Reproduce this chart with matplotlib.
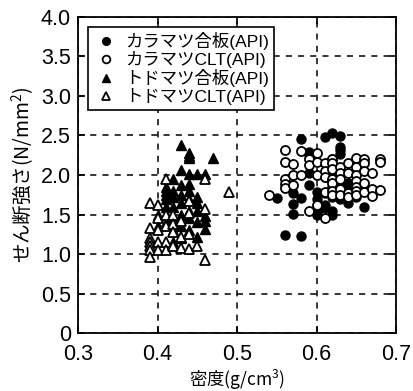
import numpy as np
import matplotlib
matplotlib.use("Agg")
import matplotlib.pyplot as plt

plt.rcParams['font.family'] = ['Liberation Sans', 'Noto Sans CJK JP', 'DejaVu Sans']
plt.rcParams['mathtext.fontset'] = 'custom'
plt.rcParams['mathtext.rm'] = 'Noto Sans CJK JP'
plt.rcParams['mathtext.it'] = 'Noto Sans CJK JP'
plt.rcParams['mathtext.default'] = 'rm'

# カラマツ合板(API)
kara_ply_x = [0.55, 0.56, 0.57, 0.57, 0.57, 0.58, 0.58, 0.58,
              0.59, 0.59, 0.59, 0.59, 0.60, 0.60, 0.60, 0.60, 0.60,
              0.61, 0.61, 0.61, 0.61, 0.61,
              0.62, 0.62, 0.62, 0.62, 0.62, 0.62, 0.62,
              0.63, 0.63, 0.63, 0.63, 0.63, 0.63, 0.63,
              0.64, 0.64, 0.64, 0.65, 0.65, 0.65, 0.66]
kara_ply_y = [1.71, 1.24, 1.77, 1.63, 1.51, 2.45, 1.71, 1.23,
              2.29, 2.25, 2.02, 1.87, 1.79, 1.70, 1.58, 1.52, 1.50,
              2.48, 1.97, 1.77, 1.62, 1.58,
              2.53, 2.20, 1.96, 1.85, 1.72, 1.55, 1.50,
              2.49, 2.36, 2.32, 2.27, 2.00, 1.85, 1.70,
              1.90, 1.80, 1.64, 1.92, 1.88, 1.72, 1.60]

# カラマツCLT(API)
kara_clt_x = [0.54, 0.56, 0.56, 0.56, 0.56, 0.56, 0.57, 0.57, 0.57,
              0.58, 0.58, 0.59, 0.59, 0.59, 0.60, 0.60, 0.60, 0.60,
              0.61, 0.61, 0.61, 0.61, 0.61,
              0.62, 0.62, 0.62, 0.62, 0.62, 0.62, 0.62,
              0.63, 0.63, 0.63, 0.63, 0.63,
              0.64, 0.64, 0.64, 0.64,
              0.65, 0.65, 0.65, 0.65, 0.65, 0.65, 0.65,
              0.66, 0.66, 0.66, 0.66, 0.66,
              0.67, 0.67, 0.67, 0.68, 0.68, 0.68]
kara_clt_y = [1.75, 2.32, 2.17, 1.95, 1.88, 1.84, 2.14, 2.00, 1.87,
              2.30, 2.00, 2.20, 2.12, 1.54, 2.28, 2.17, 2.00, 1.62,
              2.15, 2.05, 1.97, 1.78, 1.45,
              2.20, 2.15, 2.07, 1.95, 1.90, 1.80, 1.75,
              2.10, 2.02, 1.95, 1.82, 1.75,
              2.15, 2.02, 1.77, 1.72,
              2.22, 2.10, 2.00, 1.93, 1.85, 1.80, 1.75,
              2.20, 2.15, 2.05, 1.90, 1.78,
              2.03, 1.82, 1.73, 2.20, 2.16, 1.81]

# トドマツ合板(API)
todo_ply_x = [0.40, 0.40,
              0.41, 0.41, 0.41, 0.41, 0.41, 0.41, 0.41,
              0.42, 0.42, 0.42, 0.42, 0.42, 0.42, 0.42,
              0.43, 0.43, 0.43, 0.43, 0.43, 0.43, 0.43, 0.43,
              0.44, 0.44, 0.44, 0.44, 0.44, 0.44, 0.44, 0.44, 0.44, 0.44,
              0.45, 0.45, 0.45, 0.45, 0.45, 0.45,
              0.46, 0.46, 0.46, 0.46, 0.47]
todo_ply_y = [1.50, 1.35,
              1.85, 1.80, 1.75, 1.70, 1.60, 1.50, 1.40,
              1.95, 1.80, 1.72, 1.60, 1.45, 1.30, 1.15,
              2.38, 2.06, 1.87, 1.75, 1.65, 1.50, 1.35, 1.20,
              2.28, 2.24, 2.22, 2.01, 1.88, 1.80, 1.70, 1.55, 1.45, 1.30,
              2.01, 1.72, 1.65, 1.55, 1.40, 1.22,
              2.01, 1.48, 1.42, 1.32, 2.22]

# トドマツCLT(API)
todo_clt_x = [0.39, 0.39, 0.39, 0.39, 0.39, 0.39, 0.39,
              0.40, 0.40, 0.40, 0.40, 0.40,
              0.41, 0.41, 0.41, 0.41, 0.41,
              0.42, 0.42, 0.42, 0.42,
              0.43, 0.43, 0.43,
              0.44, 0.44, 0.44, 0.44,
              0.45, 0.46, 0.46, 0.46, 0.49]
todo_clt_y = [1.65, 1.33, 1.20, 1.15, 1.10, 1.05, 0.96,
              1.62, 1.45, 1.30, 1.15, 1.05,
              1.95, 1.50, 1.35, 1.15, 1.05,
              1.50, 1.38, 1.28, 1.10,
              1.42, 1.22, 1.08,
              1.67, 1.52, 1.25, 1.07,
              1.10, 1.95, 1.57, 0.92, 1.79]

fig = plt.figure(figsize=(4.13, 3.91), dpi=100)
ax = fig.add_axes([0.189, 0.148, 0.770, 0.809])

ax.plot(kara_ply_x, kara_ply_y, 'o', color='black', markersize=6.5, label='カラマツ合板(API)')
ax.plot(kara_clt_x, kara_clt_y, 'o', mfc='white', mec='black', mew=1.3, markersize=6.5, label='カラマツCLT(API)')
ax.plot(todo_ply_x, todo_ply_y, '^', color='black', markersize=7, label='トドマツ合板(API)')
ax.plot(todo_clt_x, todo_clt_y, '^', mfc='white', mec='black', mew=1.3, markersize=7, label='トドマツCLT(API)')

ax.set_xlim(0.3, 0.7)
ax.set_ylim(0, 4.0)
ax.set_xticks([0.3, 0.4, 0.5, 0.6, 0.7])
ax.set_xticklabels(['0.3', '0.4', '0.5', '0.6', '0.7'])
ax.set_yticks(np.arange(0, 4.01, 0.5))
ax.set_yticklabels(['0', '0.5', '1.0', '1.5', '2.0', '2.5', '3.0', '3.5', '4.0'])
ax.tick_params(direction='in', labelsize=15.5, length=5, width=1.2, top=True, right=True)
ax.tick_params(axis='x', pad=8)
ax.tick_params(axis='y', pad=5)
ax.grid(True, color='black', linestyle=(0, (4, 4)), linewidth=1.1)
for s in ax.spines.values():
    s.set_linewidth(1.3)

ax.set_xlabel('密度(g/cm$^3$)', fontsize=12.5, labelpad=2, fontfamily='Noto Sans CJK JP')
ax.set_ylabel('せん断強さ(N/mm$^2$)', fontsize=14, labelpad=3, fontfamily='Noto Sans CJK JP')

leg = ax.legend(loc='upper left', fontsize=12.5, frameon=True, fancybox=False,
                edgecolor='black', framealpha=1, borderpad=0.3, labelspacing=0.05,
                handletextpad=0.4, handlelength=1.4, borderaxespad=0.6,
                markerscale=0.85)
leg.get_frame().set_linewidth(1.2)

fig.savefig('out.png', dpi=100)
